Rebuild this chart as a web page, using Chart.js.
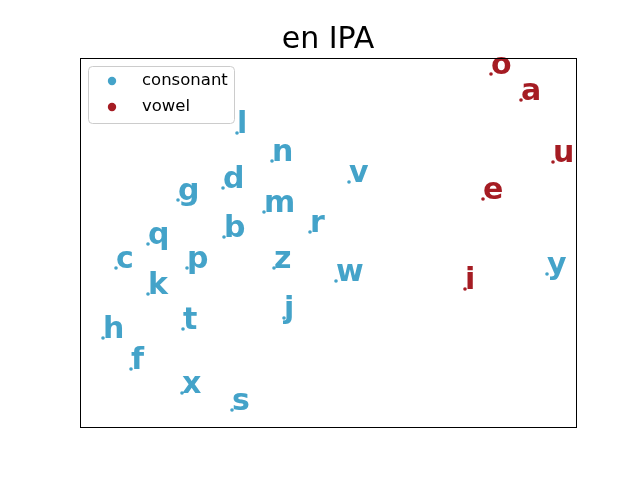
<!DOCTYPE html>
<html>
<head>
<meta charset="utf-8">
<script src="https://cdn.jsdelivr.net/npm/chart.js@4/dist/chart.umd.min.js"></script>
<style>
  html, body { margin: 0; padding: 0; background: #ffffff; }
  #wrap { width: 640px; height: 480px; }
</style>
</head>
<body>
<div id="wrap"><canvas id="c" width="640" height="480"></canvas></div>
<script>
const chartTitle = "en IPA";
const seriesNames = ["consonant", "vowel"];
const seriesColors = ["#44a3c9", "#a51c23"];

const consonantLabels = ["l", "n", "d", "g", "v", "m", "r", "b", "q", "c", "p", "z", "k", "w", "y", "j", "h", "t", "f", "x", "s"];
const consonantX = [157, 192, 143, 98, 269, 184, 230, 144, 68, 36, 107, 194, 68, 256, 467, 204, 23, 103, 51, 102, 152];
const consonantY = [294, 266, 239, 227, 245, 215, 195, 190, 183, 159, 159, 159, 133, 146, 153, 109, 89, 98, 58, 34, 17];

const vowelLabels = ["o", "a", "u", "e", "i"];
const vowelX = [411, 441, 473, 403, 385];
const vowelY = [353, 327, 265, 228, 138];

const xRange = [0, 496];
const yRange = [0, 369];

function toPoints(xs, ys) { return xs.map((x, i) => ({ x: x, y: ys[i] })); }

const pointLabels = [consonantLabels, vowelLabels];

const labelPlugin = {
  id: 'pointLabels',
  afterDatasetsDraw(chart) {
    const ctx = chart.ctx;
    ctx.save();
    ctx.font = "bold 30px 'DejaVu Sans'";
    ctx.textAlign = 'left';
    ctx.textBaseline = 'alphabetic';
    chart.data.datasets.forEach((ds, di) => {
      const meta = chart.getDatasetMeta(di);
      ctx.fillStyle = ds.backgroundColor;
      meta.data.forEach((el, i) => {
        ctx.fillText(pointLabels[di][i], el.x, el.y);
      });
    });
    ctx.restore();
  }
};

const framePlugin = {
  id: 'frame',
  afterDraw(chart) {
    const a = chart.chartArea;
    const ctx = chart.ctx;
    ctx.save();
    ctx.strokeStyle = '#000000';
    ctx.lineWidth = 1;
    ctx.strokeRect(Math.round(a.left) + 0.5, Math.round(a.top) + 0.5,
                   Math.round(a.right - a.left), Math.round(a.bottom - a.top));
    // legend
    const lx = Math.round(a.left) + 8.5, ly = Math.round(a.top) + 8.5, lw = 146, lh = 57, r = 4;
    ctx.beginPath();
    ctx.moveTo(lx + r, ly);
    ctx.lineTo(lx + lw - r, ly);
    ctx.quadraticCurveTo(lx + lw, ly, lx + lw, ly + r);
    ctx.lineTo(lx + lw, ly + lh - r);
    ctx.quadraticCurveTo(lx + lw, ly + lh, lx + lw - r, ly + lh);
    ctx.lineTo(lx + r, ly + lh);
    ctx.quadraticCurveTo(lx, ly + lh, lx, ly + lh - r);
    ctx.lineTo(lx, ly + r);
    ctx.quadraticCurveTo(lx, ly, lx + r, ly);
    ctx.closePath();
    ctx.fillStyle = 'rgba(255,255,255,0.8)';
    ctx.fill();
    ctx.strokeStyle = '#cccccc';
    ctx.stroke();
    ctx.font = "16.5px 'DejaVu Sans'";
    ctx.textBaseline = 'middle';
    ctx.textAlign = 'left';
    chart.data.datasets.forEach((ds, di) => {
      const cy = ly + 14.5 + di * 26;
      ctx.fillStyle = ds.backgroundColor;
      ctx.beginPath();
      ctx.arc(lx + 23.5, cy, 4.2, 0, Math.PI * 2);
      ctx.fill();
      ctx.fillStyle = '#000000';
      ctx.fillText(ds.label, lx + 53.5, cy);
    });
    ctx.restore();
  }
};

new Chart(document.getElementById('c'), {
  type: 'scatter',
  data: {
    datasets: [
      { label: seriesNames[0], data: toPoints(consonantX, consonantY), backgroundColor: seriesColors[0], borderColor: seriesColors[0], pointRadius: 1.8, borderWidth: 0 },
      { label: seriesNames[1], data: toPoints(vowelX, vowelY), backgroundColor: seriesColors[1], borderColor: seriesColors[1], pointRadius: 1.8, borderWidth: 0 }
    ]
  },
  options: {
    responsive: false,
    animation: false,
    devicePixelRatio: 1,
    layout: { padding: { left: 80, right: 64, top: 0, bottom: 53 } },
    plugins: {
      legend: { display: false },
      tooltip: { enabled: false },
      title: {
        display: true,
        text: chartTitle,
        color: '#000000',
        font: { family: "'DejaVu Sans'", size: 30, weight: 'normal', lineHeight: 1.1667 },
        padding: { top: 23, bottom: 0 }
      }
    },
    scales: {
      x: { type: 'linear', min: xRange[0], max: xRange[1], display: false },
      y: { type: 'linear', min: yRange[0], max: yRange[1], display: false }
    }
  },
  plugins: [labelPlugin, framePlugin]
});
</script>
</body>
</html>
